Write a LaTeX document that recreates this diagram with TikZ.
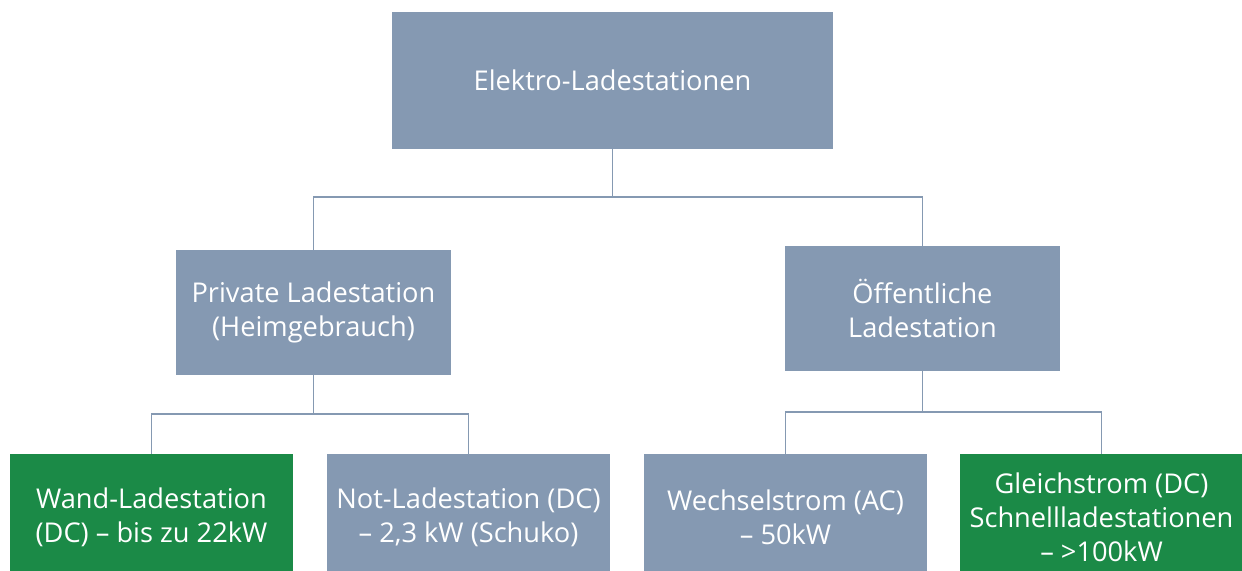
\documentclass[tikz,border=0pt]{standalone}
\usepackage{fontspec}
\setmainfont{Open Sans}
\usepackage{tikz}

\definecolor{boxblue}{HTML}{8599B2}
\definecolor{boxgreen}{HTML}{1B8A47}

\tikzset{
	box/.style={fill=boxblue, text=white, align=center, inner sep=0pt,
		font=\fontsize{15.5pt}{19.4pt}\selectfont},
	greenbox/.style={box, fill=boxgreen},
	link/.style={draw=boxblue, line width=0.9pt}
}

\begin{document}
\begin{tikzpicture}[x=0.02cm, y=-0.02cm]
		% Page frame
		\useasboundingbox (0,0) rectangle (1242,571);
		\clip (0,0) rectangle (1242,571);

		% Draw the boxes
		\node[box, minimum width=441*0.02cm, minimum height=137*0.02cm] (root) at (612.5,80.5) {Elektro-Ladestationen};
		\node[box, minimum width=275*0.02cm, minimum height=125*0.02cm] (priv) at (313.5,312.5) {Private Ladestation\\(Heimgebrauch)};
		\node[box, minimum width=275*0.02cm, minimum height=125*0.02cm] (oeff) at (922.5,308.5) {Öffentliche\\Ladestation};
		\node[greenbox, minimum width=283*0.02cm, minimum height=126*0.02cm] (wand) at (151.5,517) {Wand-Ladestation\\(DC) – bis zu 22kW};
		\node[box, minimum width=283*0.02cm, minimum height=126*0.02cm] (not) at (468.5,517) {Not-Ladestation (DC)\\– 2,3 kW (Schuko)};
		\node[box, minimum width=283*0.02cm, minimum height=126*0.02cm] (wechsel) at (785.5,517) {Wechselstrom (AC)\\– 50kW};
		\node[greenbox, minimum width=283*0.02cm, minimum height=126*0.02cm] (gleich) at (1101.5,517) {Gleichstrom (DC)\\Schnellladestationen\\– >100kW};

		% Draw the connectors
		\coordinate (top) at (612.5,197);
		\coordinate (left) at (313.5,414);
		\coordinate (right) at (922.5,412);
		\draw[link] (root.south) -- (top);
		\draw[link] (top) -| (priv.north);
		\draw[link] (top) -| (oeff.north);
		\draw[link] (priv.south) -- (left);
		\draw[link] (left) -| (wand.north);
		\draw[link] (left) -| (not.north);
		\draw[link] (oeff.south) -- (right);
		\draw[link] (right) -| (wechsel.north);
		\draw[link] (right) -| (gleich.north);
	\end{tikzpicture}
\end{document}
